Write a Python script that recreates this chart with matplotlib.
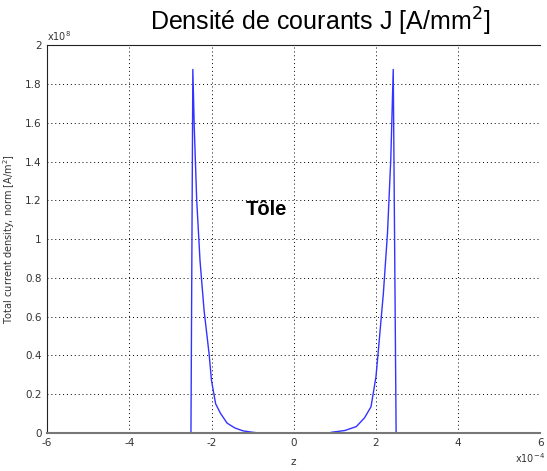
import numpy as np
import matplotlib.pyplot as plt

# z in units of 1e-4, J in units of 1e8 A/m^2
zLeft = [-2.5, -2.454, -2.42, -2.36, -2.28, -2.18, -2.06, -2.0, -1.90, -1.78, -1.62, -1.43, -1.23, -1.0, -0.88]
jLeft = [0.0, 1.875, 1.58, 1.20, 0.89, 0.63, 0.41, 0.27, 0.15, 0.10, 0.05, 0.025, 0.01, 0.003, 0.0]

zRight = [0.88, 0.92, 1.24, 1.52, 1.72, 1.88, 2.0, 2.06, 2.18, 2.28, 2.36, 2.42, 2.49]
jRight = [0.0, 0.003, 0.012, 0.032, 0.077, 0.135, 0.29, 0.43, 0.72, 1.03, 1.41, 1.875, 0.0]

xTicks = [-6, -4, -2, 0, 2, 4, 6]
yTicks = [0, 0.2, 0.4, 0.6, 0.8, 1, 1.2, 1.4, 1.6, 1.8, 2]

fig = plt.figure(figsize=(5.47, 4.71), dpi=100)
ax = fig.add_axes([0.086, 0.081, 0.902, 0.823])

lineColor = '#3333ff'
ax.plot(zLeft, jLeft, color=lineColor, lw=1.0, zorder=2)
ax.plot([zLeft[-1], zRight[0]], [0, 0], color=lineColor, lw=1.0, zorder=2)
ax.plot(zRight, jRight, color=lineColor, lw=1.0, zorder=2)

ax.set_xlim(-6, 6)
ax.set_ylim(0, 2)
ax.set_xticks(xTicks)
ax.set_yticks(yTicks)
ax.set_xticklabels([str(t) for t in xTicks])
ax.set_yticklabels(['0', '0.2', '0.4', '0.6', '0.8', '1', '1.2', '1.4', '1.6', '1.8', '2'])
ax.tick_params(labelsize=7.5, length=0, pad=4, colors='#333333')
ax.grid(True, color='black', linestyle=(0, (1, 3)), lw=0.7)

for s in ['left', 'top']:
	ax.spines[s].set_color('#222222')
	ax.spines[s].set_linewidth(0.8)
ax.spines['right'].set_visible(False)
ax.spines['bottom'].set_color('#777777')
ax.spines['bottom'].set_linewidth(1.5)
for s in ax.spines.values():
	s.set_zorder(3)

ax.set_xlabel('z', fontsize=7.5, labelpad=6, color='#333333')
ax.set_ylabel('Total current density, norm [A/m$^2$]', fontsize=7, labelpad=6, color='#333333')

ax.text(0.0, 1.005, 'x10$^8$', transform=ax.transAxes, fontsize=7, color='#333333', va='bottom', ha='left')
fig.text(0.942, 0.012, 'x10$^{-4}$', fontsize=7, color='#333333', ha='left', va='bottom')

ax.text(-0.67, 1.15, 'Tôle', fontsize=14.5, fontweight='bold', family='Liberation Sans', ha='center', va='center')

fig.text(0.585, 0.953, 'Densité de courants J [A/mm$^2$]', fontsize=18, family='Liberation Sans', ha='center', va='center')

fig.savefig('out.png', dpi=100)
